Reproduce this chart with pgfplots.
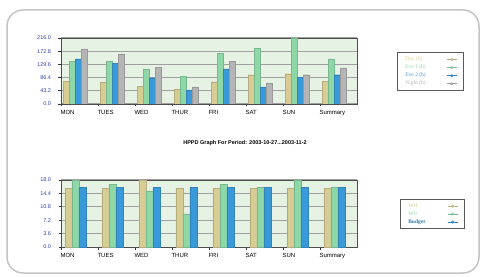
\documentclass[border=0pt]{standalone}
\usepackage{pgfplots}
\pgfplotsset{compat=1.18}
\usepackage{fontspec}
\setmainfont{Liberation Sans}
\newfontfamily\seriffont{Liberation Serif}
\definecolor{cday}{HTML}{D6CC94}
\definecolor{ceve1}{HTML}{8ED8A8}
\definecolor{ceve2}{HTML}{3A9AD9}
\definecolor{cnight}{HTML}{B5B5B5}
\definecolor{cbg}{HTML}{E6F2E3}
\definecolor{ctick}{HTML}{3344AA}
\definecolor{cframe}{HTML}{C4C4C4}
\pgfplotsset{
  hppd/.style={
    scale only axis, width=296pt,
    xtick pos=bottom, ytick pos=left,
    xticklabels={MON,TUES,WED,THUR,FRI,SAT,SUN,Summary},
    xticklabel style={anchor=north west, xshift=-4pt, font=\fontsize{6}{7}\selectfont},
    yticklabel style={font=\fontsize{5.5}{6}\selectfont, color=ctick, xshift=-4pt,
      /pgf/number format/fixed, /pgf/number format/fixed zerofill, /pgf/number format/precision=1},
    /pgf/number format/assume math mode=true,
    axis background/.style={fill=cbg},
    ymajorgrids, grid style={gray!75, line width=1pt},
    axis line style={gray!60!black, line width=0.8pt},
    tick style={gray!40!black, line width=0.6pt},
    tick align=outside, major tick length=2.5pt,
    ybar=0pt,
    legend cell align=left, legend plot pos=right,
    legend image code/.code={
      \draw[#1, line width=0.7pt] (0pt,0pt) -- (10pt,0pt);
      \fill[#1] (5pt,-1.3pt) -- (6.5pt,0pt) -- (5pt,1.3pt) -- (3.5pt,0pt) -- cycle;
    },
    legend style={draw=gray!70!black, line width=0.8pt, fill=white,
      font=\seriffont\fontsize{5.5}{6}\selectfont, inner xsep=6pt, inner ysep=2pt,
      row sep=-1.2pt, anchor=west},
  }
}
\begin{document}
\begin{tikzpicture}
\path[use as bounding box] (0pt,0pt) rectangle (482pt,276pt);
\draw[line width=1.5pt, color=cframe, rounded corners=16pt] (7pt,3pt) rectangle (479pt,266pt);

% top chart
\begin{axis}[hppd, at={(61pt,172pt)}, anchor=south west, height=66pt,
  xmin=-0.38, xmax=7.62, xtick={-0.38,0.62,1.62,2.62,3.62,4.62,5.62,6.62},
  ymin=0, ymax=216, ytick={0,43.2,86.4,129.6,172.8,216},
  bar width=6pt,
  legend style={at={(1.135,0.49)}}]
\addplot[fill=cday, draw=cday!85!black, line width=0.3pt] coordinates
  {(0,74) (1,72) (2,58) (3,47) (4,73) (5,96) (6,99) (7,74)};
\addlegendentry{\makebox[39pt][l]{\textcolor{cday}{Day (h)}}}
\addplot[fill=ceve1, draw=ceve1!85!black, line width=0.3pt] coordinates
  {(0,140) (1,140) (2,115) (3,90) (4,165) (5,183) (6,216) (7,148)};
\addlegendentry{\makebox[39pt][l]{\textcolor{ceve1}{Eve 1 (h)}}}
\addplot[fill=ceve2, draw=ceve2!85!black, line width=0.3pt] coordinates
  {(0,148) (1,134) (2,86) (3,46) (4,115) (5,56) (6,88) (7,96)};
\addlegendentry{\makebox[39pt][l]{\textcolor{ceve2}{Eve 2 (h)}}}
\addplot[fill=cnight, draw=cnight!85!black, line width=0.3pt] coordinates
  {(0,180) (1,164) (2,120) (3,56) (4,139) (5,69) (6,96) (7,118)};
\addlegendentry{\makebox[39pt][l]{\textcolor{cnight}{Night (h)}}}
\end{axis}

\node[font=\bfseries\fontsize{5.5}{6}\selectfont] at (245pt,133pt)
  {HPPD Graph For Period: 2003-10-27...2003-11-2};

% bottom chart
\begin{axis}[hppd, at={(61pt,29pt)}, anchor=south west, height=67pt,
  xmin=-0.39, xmax=7.61, xtick={-0.39,0.61,1.61,2.61,3.61,4.61,5.61,6.61},
  ymin=0, ymax=18, ytick={0,3.6,7.2,10.8,14.4,18},
  bar width=7pt,
  legend style={at={(1.145,0.49)}}]
\addplot[fill=cday, draw=cday!85!black, line width=0.3pt] coordinates
  {(0,15.8) (1,15.8) (2,18) (3,15.8) (4,15.8) (5,15.8) (6,15.8) (7,15.8)};
\addlegendentry{\makebox[37pt][l]{\textcolor{cday}{WH}}}
\addplot[fill=ceve1, draw=ceve1!85!black, line width=0.3pt] coordinates
  {(0,18) (1,16.8) (2,15.1) (3,8.9) (4,16.8) (5,16) (6,18) (7,16)};
\addlegendentry{\makebox[37pt][l]{\textcolor{ceve1}{WU}}}
\addplot[fill=ceve2, draw=ceve2!85!black, line width=0.3pt] coordinates
  {(0,16) (1,16) (2,16) (3,16) (4,16) (5,16) (6,16) (7,16)};
\addlegendentry{\makebox[37pt][l]{\textcolor{ceve2!80!black}{\bfseries Budget}}}
\end{axis}
\end{tikzpicture}
\end{document}
